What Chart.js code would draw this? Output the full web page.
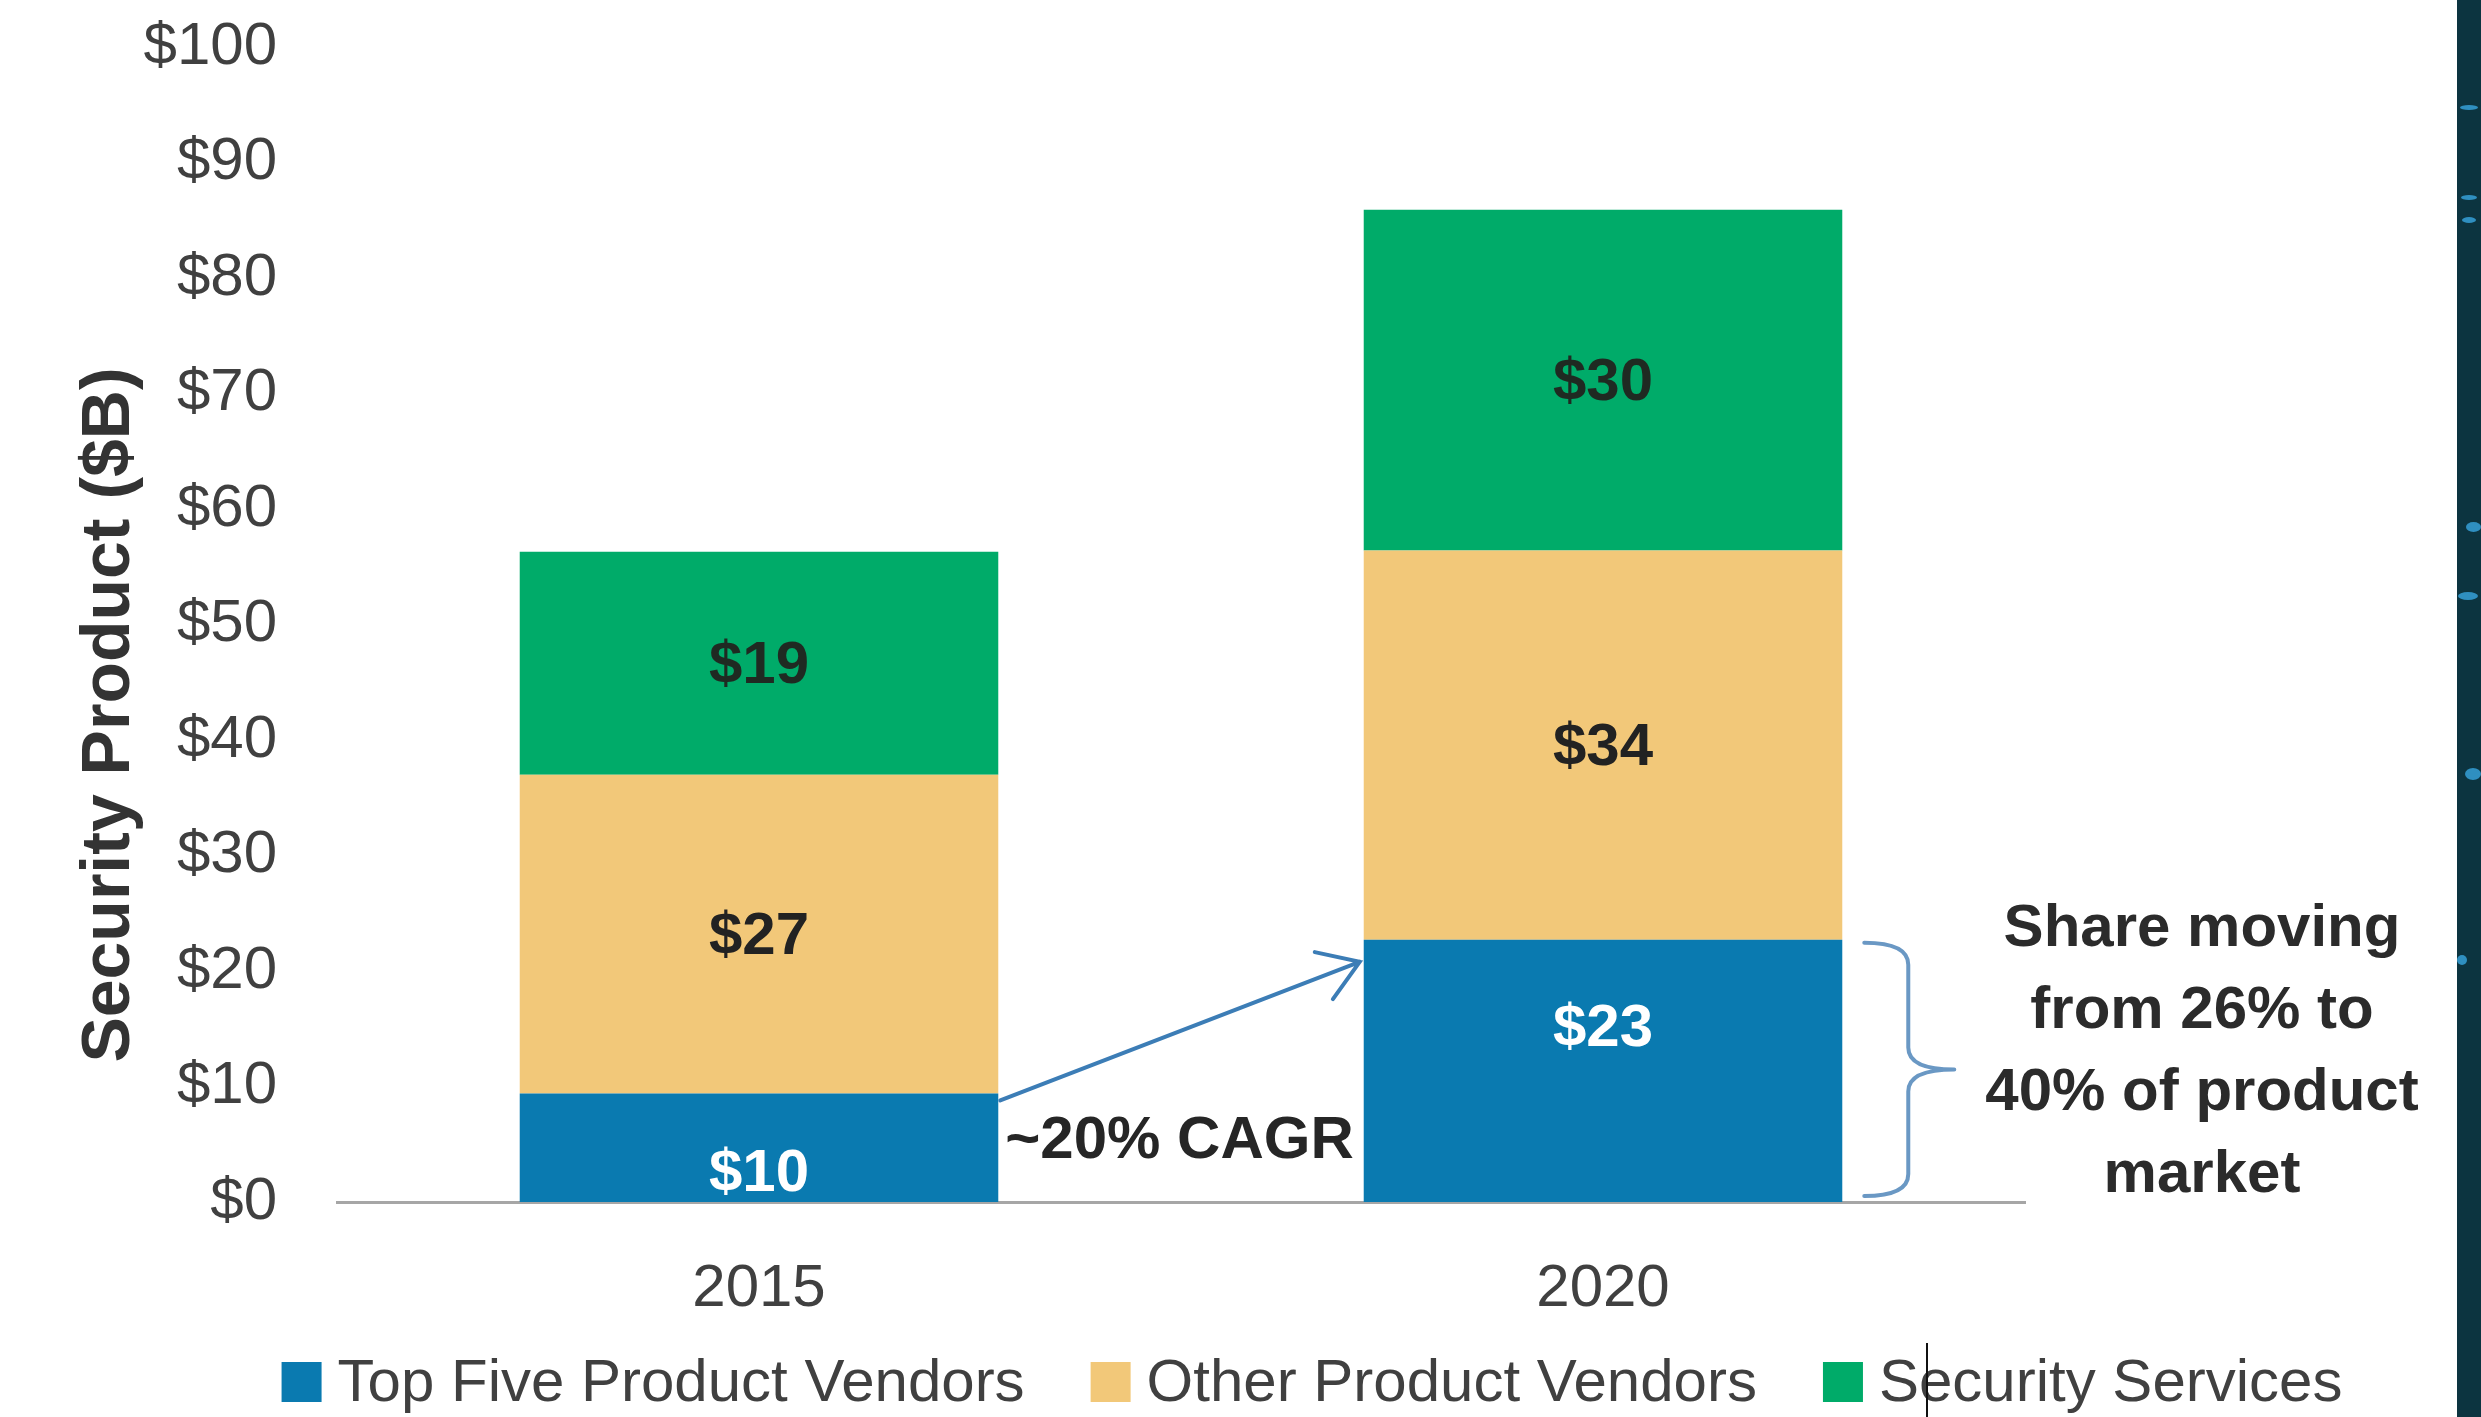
<!DOCTYPE html>
<html>
<head>
<meta charset="utf-8">
<script src="https://cdn.jsdelivr.net/npm/chart.js@4.4.1/dist/chart.umd.min.js"></script>
<style>
  html, body { margin: 0; padding: 0; background: #fff; }
  #wrap { position: relative; width: 2481px; height: 1417px; overflow: hidden; }
  #strip { position: absolute; left: 2457px; top: 0; width: 24px; height: 1417px; background: #0c3440; }
  .dot { position: absolute; background: #2f8fc0; border-radius: 50%; }
  #cursor { position: absolute; left: 1926px; top: 1343px; width: 2px; height: 74px; background: #111; }
</style>
</head>
<body>
<div id="wrap">
  <canvas id="chart" width="2481" height="1417"></canvas>
  <div id="strip"></div>
  <div class="dot" style="left:2460px;top:105px;width:18px;height:5px"></div>
  <div class="dot" style="left:2461px;top:195px;width:16px;height:5px"></div>
  <div class="dot" style="left:2462px;top:217px;width:14px;height:6px"></div>
  <div class="dot" style="left:2466px;top:522px;width:15px;height:10px"></div>
  <div class="dot" style="left:2458px;top:592px;width:20px;height:8px"></div>
  <div class="dot" style="left:2465px;top:768px;width:16px;height:12px"></div>
  <div class="dot" style="left:2457px;top:955px;width:10px;height:10px"></div>
  <div id="cursor"></div>
</div>
<script>
// Chart data ($B)
const years = ['2015', '2020'];
const seriesNames = ['Top Five Product Vendors', 'Other Product Vendors', 'Security Services'];
const topFiveValues = [9.4, 22.7];
const otherValues = [27.6, 33.7];
const servicesValues = [19.3, 29.5];
// labels printed on the segments
const topFiveLabels = ['$10', '$23'];
const otherLabels = ['$27', '$34'];
const servicesLabels = ['$19', '$30'];
const yMax = 100;
const yStep = 10;
const axisTitle = 'Security Product ($B)';
const cagrText = '~20% CAGR';
const shareLines = ['Share moving', 'from 26% to', '40% of product', 'market'];

const FONT = '"Liberation Sans", Arial, sans-serif';
const colors = ['#0a7ab0', '#f2c879', '#00ab69'];

// value labels in the middle of each segment (blue ones were moved by hand in the original)
const barLabels = {
  id: 'barLabels',
  afterDatasetsDraw(chart) {
    const c = chart.ctx;
    c.save();
    c.font = 'bold 60px ' + FONT;
    c.textAlign = 'center';
    c.textBaseline = 'middle';
    chart.data.datasets.forEach((ds, i) => {
      chart.getDatasetMeta(i).data.forEach((el, j) => {
        const nudge = ds.labelNudge ? ds.labelNudge[j] : 0;
        c.fillStyle = ds.labelColor;
        c.fillText(ds.valueLabels[j], el.x, (el.y + el.base) / 2 + 3 + nudge);
      });
    });
    c.restore();
  }
};

// CAGR arrow, brace and side note
const annotate = {
  id: 'annotate',
  afterDatasetsDraw(chart) {
    const c = chart.ctx;
    const bars = chart.getDatasetMeta(0).data;
    const a = bars[0], b = bars[1];
    const zeroY = chart.scales.y.getPixelForValue(0);

    const x0 = a.x + a.width / 2 + 2, y0 = a.y + 7;
    const x1 = b.x - b.width / 2 - 4, y1 = b.y + 22;
    c.save();
    c.strokeStyle = '#3c7db6';
    c.lineWidth = 4;
    c.lineCap = 'round';
    c.beginPath();
    c.moveTo(x0, y0);
    c.lineTo(x1, y1);
    const ang = Math.atan2(y1 - y0, x1 - x0);
    const head = 46, spread = 0.58;
    c.moveTo(x1 - head * Math.cos(ang - spread), y1 - head * Math.sin(ang - spread));
    c.lineTo(x1, y1);
    c.lineTo(x1 - head * Math.cos(ang + spread), y1 - head * Math.sin(ang + spread));
    c.stroke();

    c.fillStyle = '#262626';
    c.font = 'bold 60px ' + FONT;
    c.textAlign = 'left';
    c.textBaseline = 'alphabetic';
    c.fillText(cagrText, x0 + 5, zeroY - 44);

    // curly brace next to the 2020 top-five segment
    const bx = b.x + b.width / 2 + 22, vx = bx + 44, tx = vx + 46;
    const top = b.y + 3, bot = zeroY - 6, mid = (top + bot) / 2;
    c.strokeStyle = '#6a98c4';
    c.lineWidth = 4;
    c.beginPath();
    c.moveTo(bx, top);
    c.quadraticCurveTo(vx, top, vx, top + 22);
    c.lineTo(vx, mid - 22);
    c.quadraticCurveTo(vx, mid, tx, mid);
    c.moveTo(tx, mid);
    c.quadraticCurveTo(vx, mid, vx, mid + 22);
    c.lineTo(vx, bot - 22);
    c.quadraticCurveTo(vx, bot, bx, bot);
    c.stroke();

    c.fillStyle = '#2b2b2b';
    c.textAlign = 'center';
    c.textBaseline = 'middle';
    shareLines.forEach((t, i) => c.fillText(t, 2202, 929 + i * 82));
    c.restore();
  }
};

// rotated y-axis title, sits lower than the axis centre in the original
const yTitle = {
  id: 'yTitle',
  afterDraw(chart) {
    const c = chart.ctx;
    c.save();
    c.translate(110, 715);
    c.rotate(-Math.PI / 2);
    c.font = 'bold 68px ' + FONT;
    c.fillStyle = '#333333';
    c.textAlign = 'center';
    c.textBaseline = 'middle';
    c.fillText(axisTitle, 0, 0);
    c.restore();
  }
};

// legend row along the bottom
const legendRow = {
  id: 'legendRow',
  afterDraw(chart) {
    const c = chart.ctx;
    const items = chart.data.datasets;
    c.save();
    c.font = '60px ' + FONT;
    const box = 40, gap = 16, spacing = 66;
    const widths = items.map(d => c.measureText(d.label).width);
    const total = widths.reduce((s, w) => s + w, 0) + items.length * (box + gap) + (items.length - 1) * spacing;
    let x = 1312 - total / 2;
    const y = 1382;
    items.forEach((d, i) => {
      c.fillStyle = d.backgroundColor;
      c.fillRect(x, y - box / 2, box, box);
      c.fillStyle = '#404040';
      c.textAlign = 'left';
      c.textBaseline = 'middle';
      c.fillText(d.label, x + box + gap, y + 2);
      x += box + gap + widths[i] + spacing;
    });
    c.restore();
  }
};

const ctx = document.getElementById('chart').getContext('2d');
new Chart(ctx, {
  type: 'bar',
  data: {
    labels: years,
    datasets: [
      { label: seriesNames[0], data: topFiveValues, backgroundColor: colors[0], valueLabels: topFiveLabels, labelColor: '#ffffff', labelNudge: [24, -44] },
      { label: seriesNames[1], data: otherValues, backgroundColor: colors[1], valueLabels: otherLabels, labelColor: '#222222' },
      { label: seriesNames[2], data: servicesValues, backgroundColor: colors[2], valueLabels: servicesLabels, labelColor: '#1f2a22' }
    ]
  },
  options: {
    responsive: false,
    animation: false,
    layout: { padding: { top: 47, right: 456, bottom: 0, left: 0 } },
    datasets: { bar: { barPercentage: 0.567, categoryPercentage: 1 } },
    scales: {
      x: {
        stacked: true,
        grid: { display: false, drawTicks: false },
        border: { display: true, color: '#a6a6a6', width: 3 },
        ticks: { font: { family: FONT, size: 60 }, color: '#404040', padding: 51 },
        afterFit: s => { s.height = 215; }
      },
      y: {
        stacked: true,
        min: 0,
        max: yMax,
        grid: { display: false, drawTicks: false },
        border: { display: false },
        ticks: { stepSize: yStep, font: { family: FONT, size: 60 }, color: '#404040', padding: 60, callback: v => '$' + v },
        afterFit: s => { s.width = 337; s.paddingTop = 0; s.paddingBottom = 0; }
      }
    },
    plugins: { legend: { display: false }, tooltip: { enabled: false } }
  },
  plugins: [barLabels, annotate, yTitle, legendRow]
});
</script>
</body>
</html>
